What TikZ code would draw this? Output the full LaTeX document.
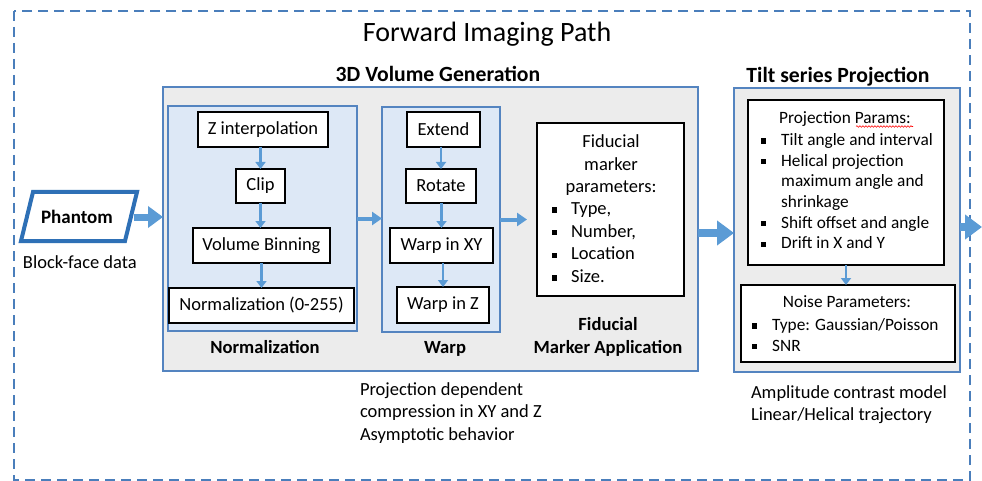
\documentclass[tikz,border=0pt]{standalone}
\usepackage{fontspec}
\setmainfont{Carlito}
\usetikzlibrary{arrows.meta,calc,decorations.pathmorphing}
\definecolor{dashblue}{RGB}{74,126,187}
\definecolor{boxblue}{RGB}{84,132,192}
\definecolor{arrowblue}{RGB}{91,155,213}
\definecolor{grayfill}{RGB}{236,236,236}
\definecolor{lightblue}{RGB}{221,232,246}
\definecolor{phblue}{RGB}{46,112,182}
\newcommand{\sqb}{\rule[1.8pt]{5.5pt}{5.5pt}}
\begin{document}
\begin{tikzpicture}[x=1pt,y=-1pt,
  region/.style={draw=boxblue, line width=1.6pt, fill=grayfill, inner sep=0pt, outer sep=0pt},
  subregion/.style={draw=boxblue, line width=1.6pt, fill=lightblue, inner sep=0pt, outer sep=0pt},
  stepbox/.style={draw=black, line width=2.8pt, fill=white, inner sep=0pt, outer sep=0pt, font=\fontsize{18.5}{22}\selectfont},
  parambox/.style={draw=black, line width=2.8pt, fill=white, inner sep=0pt, outer sep=0pt},
  txt/.style={inner sep=0pt, outer sep=0pt, font=\fontsize{18.5}{22.3}\selectfont},
  btxt/.style={inner sep=0pt, outer sep=0pt, font=\bfseries\fontsize{21.7}{24}\selectfont},
  bltxt/.style={inner sep=0pt, outer sep=0pt, font=\bfseries\fontsize{18.6}{23}\selectfont},
  smallarrow/.style={draw=arrowblue, line width=2.5pt, -{Triangle[width=10pt,length=7pt]}},
  medarrow/.style={draw=arrowblue, line width=4pt, -{Triangle[width=13pt,length=10pt]}},
  fatarrow/.style={draw=arrowblue, line width=7pt, -{Triangle[width=21pt,length=15pt]}},
  hugearrow/.style={draw=arrowblue, line width=8pt, -{Triangle[width=24pt,length=17pt]}}
]
\useasboundingbox (0,0) rectangle (982,481);
\fill[white] (0,0) rectangle (982,481);
% outer dashed frame
\draw[dashblue, line width=2.5pt, dash pattern=on 10pt off 6pt] (14,11) rectangle (970,480);
\node[inner sep=0pt, anchor=base, font=\fontsize{28}{31}\selectfont] (title) at (487,42) {Forward Imaging Path};

% region boxes
\node[region, minimum width=535pt, minimum height=284pt] (gv) at (430.5,229) {};
\node[region, minimum width=226pt, minimum height=284pt] (tb) at (847,230) {};
\node[subregion, minimum width=189pt, minimum height=225pt] (nb) at (262.5,218.5) {};
\node[subregion, minimum width=118pt, minimum height=225pt] (wb) at (441,219.5) {};

\node[btxt, anchor=base] (gvlabel) at (438,82) {3D Volume Generation};
\node[btxt, anchor=base] (tblabel) at (838,82.5) {Tilt series Projection};
\node[bltxt, anchor=base] (nblabel) at (265,353) {Normalization};
\node[bltxt, anchor=base] (wblabel) at (445,353) {Warp};
\node[bltxt, anchor=base] (fidlabel) at (608,330) {\begin{tabular}[t]{@{}c@{}}Fiducial\\Marker Application\end{tabular}};

% normalization steps
\node[stepbox, minimum width=130pt, minimum height=35pt] (zi) at (263,129.5) {Z interpolation};
\node[stepbox, minimum width=49pt, minimum height=34pt] (clip) at (260.5,186) {Clip};
\node[stepbox, minimum width=137pt, minimum height=35pt] (vb) at (261.5,245.5) {Volume Binning};
\node[stepbox, minimum width=185pt, minimum height=35pt] (nz) at (261.5,305.5) {Normalization (0-255)};
\draw[smallarrow] (zi.south -| clip.north) -- (clip.north);
\draw[smallarrow] (clip.south) -- (clip.south |- vb.north);
\draw[smallarrow] (vb.south) -- (nz.north);

% warp steps
\node[stepbox, minimum width=73pt, minimum height=35pt] (ext) at (443.5,129.5) {Extend};
\node[stepbox, minimum width=70pt, minimum height=34pt] (rot) at (441,186) {Rotate};
\node[stepbox, minimum width=103pt, minimum height=35pt] (wxy) at (441.5,245.5) {Warp in XY};
\node[stepbox, minimum width=92pt, minimum height=36pt] (wz) at (443,305) {Warp in Z};
\draw[smallarrow] (ext.south -| rot.north) -- (rot.north);
\draw[smallarrow] (rot.south -| wxy.north) -- (wxy.north);
\draw[smallarrow] (wxy.south -| wz.north) -- (wz.north);

% fiducial box
\node[parambox, minimum width=147pt, minimum height=173pt] (fid) at (610.5,209.5) {};
\node[inner sep=0pt, anchor=base, font=\fontsize{18.5}{22.7}\selectfont] (fidhead) at (611,147.5)
  {\begin{tabular}[t]{@{}c@{}}Fiducial\\marker\\parameters:\end{tabular}};
\node[inner sep=0pt, anchor=base west, font=\fontsize{18.5}{22.7}\selectfont] (fidlist) at (551.5,214.5)
  {\begin{tabular}[t]{@{}p{19.5pt}@{}l@{}}\sqb & Type,\\ \sqb & Number,\\ \sqb & Location\\ \sqb & Size.\end{tabular}};

% projection params
\node[parambox, minimum width=196pt, minimum height=165pt] (pp) at (846,182.5) {};
\node[inner sep=0pt, anchor=base, font=\fontsize{17.3}{20.7}\selectfont] (pphead) at (845,123.5) {Projection Params:};
\draw[red, line width=0.6pt, decorate, decoration={snake, amplitude=0.8pt, segment length=3pt}] (856,126.5) -- (913,126.5);
\node[inner sep=0pt, anchor=base west, font=\fontsize{17.3}{20.7}\selectfont] (pplist) at (760.5,145.5)
  {\begin{tabular}[t]{@{}p{20.5pt}@{}l@{}}\sqb & Tilt angle and interval\\ \sqb & Helical projection\\ & maximum angle and\\ & shrinkage\\ \sqb & Shift offset and angle\\ \sqb & Drift in X and Y\end{tabular}};

% noise params
\node[parambox, minimum width=214pt, minimum height=77pt] (np) at (848,323.5) {};
\node[inner sep=0pt, anchor=base, font=\fontsize{17.3}{20.5}\selectfont] (nphead) at (847,307.5) {Noise Parameters:};
\node[inner sep=0pt, anchor=base west, font=\fontsize{17.3}{20.5}\selectfont] (nplist) at (751.5,330.5)
  {\begin{tabular}[t]{@{}p{20.5pt}@{}l@{}}\sqb & Type: Gaussian/Poisson\\ \sqb & SNR\end{tabular}};
\draw[smallarrow] (pp.south) -- (pp.south |- np.north);

% phantom
\draw[phblue, line width=4pt, line join=miter] (21,241) -- (33,192) -- (137,192) -- (125,241) -- cycle;
\node[inner sep=0pt, font=\bfseries\fontsize{19}{22}\selectfont] (ph) at (77,216.5) {Phantom};
\coordinate (phR) at (134,217);
\node[txt, anchor=base west] (bfd) at (23,268.5) {Block-face data};

% captions
\node[txt, anchor=base west] (cap1) at (360,395.5)
  {\begin{tabular}[t]{@{}l@{}}Projection dependent\\compression in XY and Z\\Asymptotic behavior\end{tabular}};
\node[txt, anchor=base west] (cap2) at (751,398.5)
  {\begin{tabular}[t]{@{}l@{}}Amplitude contrast model\\Linear/Helical trajectory\end{tabular}};

% main arrows
\draw[fatarrow] (phR) -- (phR -| gv.west);
\draw[medarrow] (nb.east) -- (nb.east -| wb.west);
\draw[medarrow, shorten >=10pt] (wb.east) -- (wb.east -| fid.west);
\draw[hugearrow] ([yshift=-4pt]gv.east) -- ([yshift=-4pt]gv.east -| tb.west);
\coordinate (exitpt) at (982,227);
\draw[hugearrow] (tb.east |- exitpt) -- (exitpt);
\end{tikzpicture}
\end{document}
